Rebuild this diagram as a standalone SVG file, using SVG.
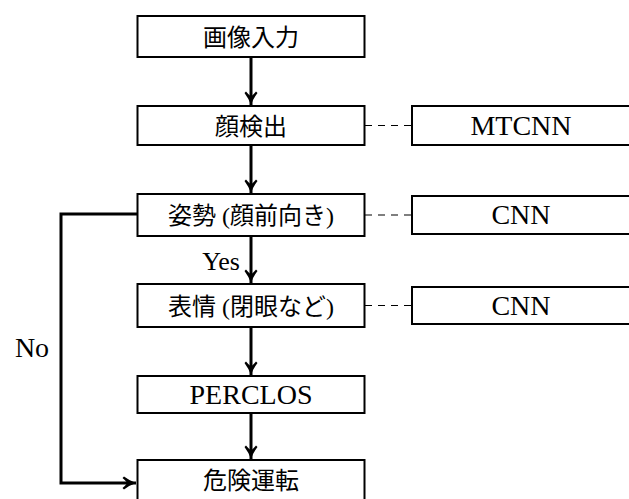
<svg xmlns="http://www.w3.org/2000/svg" width="629" height="499" viewBox="0 0 629 499">
<style>
.box{fill:#fff;stroke:#000;stroke-width:2}
.t{font-family:"Liberation Serif","Noto Sans CJK JP",serif;font-size:24px;fill:#000;text-anchor:middle}
.l{font-family:"Liberation Serif","Noto Sans CJK JP",serif;font-size:28px;fill:#000;text-anchor:middle}
.c{fill:none;stroke:#000;stroke-width:3}
.d{fill:none;stroke:#000;stroke-width:1.2;stroke-dasharray:7 6}
</style>
<defs>
<marker id="ah" markerUnits="userSpaceOnUse" markerWidth="16" markerHeight="16" refX="14" refY="8" orient="auto">
<path d="M14,8 Q8,6 2,1.5 L0.5,3 Q5,7 5,8 Q5,9 0.5,13 L2,14.5 Q8,10 14,8 Z" fill="#000"/>
</marker>
</defs>
<g id="n1"><rect class="box" x="137.5" y="16" width="227" height="41"/><text class="t" x="251" y="46">画像入力</text></g>
<g id="n2"><rect class="box" x="137.5" y="106" width="227" height="39"/><text class="t" x="251" y="135">顔検出</text></g>
<g id="n3"><rect class="box" x="137.5" y="194" width="227" height="42"/><text class="t" x="251" y="224">姿勢 (顔前向き)</text></g>
<g id="n4"><rect class="box" x="137.5" y="284" width="227" height="43"/><text class="t" x="251" y="314.5">表情 (閉眼など)</text></g>
<g id="n5"><rect class="box" x="137.5" y="376" width="227" height="37"/><text class="l" x="251" y="403.5">PERCLOS</text></g>
<g id="n6"><rect class="box" x="137.5" y="460" width="227" height="50"/><text class="t" x="251" y="489">危険運転</text></g>
<g id="r1"><rect class="box" x="412" y="106" width="230" height="39"/><text class="l" x="521" y="135">MTCNN</text></g>
<g id="r2"><rect class="box" x="412" y="196" width="230" height="38"/><text class="l" x="521" y="224">CNN</text></g>
<g id="r3"><rect class="box" x="412" y="287" width="230" height="37"/><text class="l" x="521" y="315">CNN</text></g>
<g id="connectors">
<path class="c" d="M251,57 V105" marker-end="url(#ah)"/>
<path class="c" d="M251,145 V193" marker-end="url(#ah)"/>
<path class="c" d="M251,236 V283" marker-end="url(#ah)"/>
<path class="c" d="M251,327 V375" marker-end="url(#ah)"/>
<path class="c" d="M251,413 V459" marker-end="url(#ah)"/>
<path class="c" d="M137.5,214 H61 V483 H136" marker-end="url(#ah)"/>
<path class="d" d="M365,125.5 H412"/>
<path class="d" d="M365,215 H412"/>
<path class="d" d="M365,305.5 H412"/>
<text class="l" x="240" y="270" style="text-anchor:end;font-size:26px">Yes</text>
<text class="l" x="32" y="357">No</text>
</g>
</svg>
